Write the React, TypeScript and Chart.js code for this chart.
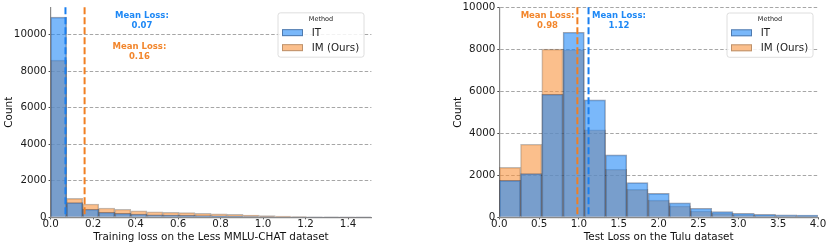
import React, { useEffect, useRef } from 'react';
import { Chart, registerables } from 'chart.js';

Chart.register(...registerables);

const SERIES = ['IT', 'IM (Ours)'];
const LEGEND_TITLE = 'Method';
const NOTE_LABEL = 'Mean Loss:';

// ---- Left panel data ----
const LEFT_X_MAX = 1.51;
const LEFT_IT = [10950, 800, 440, 275, 220, 180, 140, 125, 110, 95, 80, 65, 45, 35, 25, 15, 10, 8, 5, 3];
const LEFT_IM = [8600, 1040, 730, 510, 440, 360, 305, 275, 255, 220, 195, 165, 125, 90, 60, 40, 25, 15, 10, 5];
const LEFT_X_TICKS = [0, 0.2, 0.4, 0.6, 0.8, 1.0, 1.2, 1.4];
const LEFT_Y_TICKS = [0, 2000, 4000, 6000, 8000, 10000];
const LEFT_Y_MAX = 11500;
const LEFT_MEANS = [0.07, 0.16]; // IT, IM
const LEFT_X_TITLE = 'Training loss on the Less MMLU-CHAT dataset';

// ---- Right panel data ----
const RIGHT_X_MAX = 4.0;
const RIGHT_IT = [1760, 2080, 5860, 8810, 5590, 2970, 1650, 1140, 690, 430, 270, 190, 140, 120, 110];
const RIGHT_IM = [2380, 3480, 8010, 7980, 4170, 2290, 1330, 820, 545, 300, 190, 120, 80, 60, 50];
const RIGHT_X_TICKS = [0, 0.5, 1.0, 1.5, 2.0, 2.5, 3.0, 3.5, 4.0];
const RIGHT_Y_TICKS = [0, 2000, 4000, 6000, 8000, 10000];
const RIGHT_Y_MAX = 10000;
const RIGHT_MEANS = [1.12, 0.98]; // IT, IM
const RIGHT_X_TITLE = 'Test Loss on the Tulu dataset';

const FONT = '"DejaVu Sans", "Liberation Sans", sans-serif';
const IT_FILL = 'rgba(33,137,247,0.6)';
const IM_FILL = 'rgba(248,148,63,0.6)';
const IT_EDGE = 'rgba(20,35,70,0.42)';
const IM_EDGE = 'rgba(90,70,55,0.38)';
const IT_LINE = '#1a7ff0';
const IM_LINE = '#f07f22';
const IT_TEXT = '#1e88f5';
const IM_TEXT = '#f2862c';

type Note = { series: number; x: number; y: number };
type Panel = {
  xMax: number;
  it: number[];
  im: number[];
  xTicks: number[];
  yTicks: number[];
  yMax: number;
  means: number[];
  xTitle: string;
  notes: Note[];
  padLeft: number;
  padRight: number;
  padTop: number;
  yAxisW: number;
  xAxisH: number;
  legendGap: number;
};

const LEFT: Panel = {
  xMax: LEFT_X_MAX, it: LEFT_IT, im: LEFT_IM, xTicks: LEFT_X_TICKS, yTicks: LEFT_Y_TICKS,
  yMax: LEFT_Y_MAX, means: LEFT_MEANS, xTitle: LEFT_X_TITLE,
  notes: [
    { series: 0, x: 0.43, y: 11030 },
    { series: 1, x: 0.418, y: 9330 },
  ],
  padLeft: 3, padRight: 43.6, padTop: 7, yAxisW: 47.6, xAxisH: 29.7, legendGap: 7.4,
};

const RIGHT: Panel = {
  xMax: RIGHT_X_MAX, it: RIGHT_IT, im: RIGHT_IM, xTicks: RIGHT_X_TICKS, yTicks: RIGHT_Y_TICKS,
  yMax: RIGHT_Y_MAX, means: RIGHT_MEANS, xTitle: RIGHT_X_TITLE,
  notes: [
    { series: 1, x: 0.605, y: 9600 },
    { series: 0, x: 1.502, y: 9600 },
  ],
  padLeft: 37, padRight: 12, padTop: 7.3, yAxisW: 47.3, xAxisH: 29.7, legendGap: 5,
};

function makeOverlay(p: Panel) {
  const lineColors = [IT_LINE, IM_LINE];
  const textColors = [IT_TEXT, IM_TEXT];
  const fills = [IT_FILL, IM_FILL];
  const edges = [IT_EDGE, IM_EDGE];
  return {
    id: 'overlay',
    afterDatasetsDraw(chart: any) {
      const { ctx, chartArea, scales } = chart;
      const xs = scales.x;
      const ys = scales.y;
      ctx.save();
      p.means.forEach((m, i) => {
        const px = xs.getPixelForValue(m);
        ctx.beginPath();
        ctx.setLineDash([7, 3]);
        ctx.lineWidth = 2;
        ctx.strokeStyle = lineColors[i];
        ctx.moveTo(px, chartArea.top);
        ctx.lineTo(px, chartArea.bottom);
        ctx.stroke();
      });
      ctx.setLineDash([]);
      ctx.font = `bold 8.5px ${FONT}`;
      ctx.textAlign = 'center';
      ctx.textBaseline = 'middle';
      p.notes.forEach((n) => {
        const px = xs.getPixelForValue(n.x);
        const py = ys.getPixelForValue(n.y);
        ctx.fillStyle = textColors[n.series];
        ctx.fillText(NOTE_LABEL, px, py);
        ctx.fillText(p.means[n.series].toFixed(2), px, py + 9.6);
      });
      ctx.restore();
    },
    afterDraw(chart: any) {
      const { ctx, chartArea } = chart;
      const w = 86;
      const h = 44.3;
      const L = chartArea.right - p.legendGap - w;
      const T = chartArea.top + 5.7;
      ctx.save();
      ctx.beginPath();
      const r = 2.5;
      ctx.moveTo(L + r, T);
      ctx.lineTo(L + w - r, T);
      ctx.arcTo(L + w, T, L + w, T + r, r);
      ctx.lineTo(L + w, T + h - r);
      ctx.arcTo(L + w, T + h, L + w - r, T + h, r);
      ctx.lineTo(L + r, T + h);
      ctx.arcTo(L, T + h, L, T + h - r, r);
      ctx.lineTo(L, T + r);
      ctx.arcTo(L, T, L + r, T, r);
      ctx.closePath();
      ctx.fillStyle = 'rgba(255,255,255,0.85)';
      ctx.fill();
      ctx.lineWidth = 0.8;
      ctx.strokeStyle = '#d6d6d6';
      ctx.stroke();
      ctx.fillStyle = '#222';
      ctx.font = `6.5px ${FONT}`;
      ctx.textAlign = 'center';
      ctx.textBaseline = 'middle';
      ctx.fillText(LEGEND_TITLE, L + w / 2, T + 6.8);
      ctx.textAlign = 'left';
      ctx.font = `10.3px ${FONT}`;
      SERIES.forEach((name, i) => {
        const sy = T + 16.3 + i * 15;
        ctx.fillStyle = '#ffffff';
        ctx.fillRect(L + 4, sy, 21, 7);
        ctx.fillStyle = fills[i];
        ctx.fillRect(L + 4, sy, 21, 7);
        ctx.lineWidth = 1;
        ctx.strokeStyle = edges[i];
        ctx.strokeRect(L + 4.5, sy + 0.5, 20, 6);
        ctx.fillStyle = '#222';
        ctx.fillText(name, L + 33.7, sy + 3.8);
      });
      ctx.restore();
    },
  };
}

function buildConfig(p: Panel): any {
  const binW = p.xMax / p.it.length;
  const toPts = (arr: number[]) => arr.map((v, i) => ({ x: (i + 0.5) * binW, y: v }));
  const tickFont = { family: FONT, size: 10.3, lineHeight: 1 };
  const titleFont = { family: FONT, size: 10.4 };
  return {
    type: 'bar',
    data: {
      datasets: [
        {
          label: SERIES[0], data: toPts(p.it), backgroundColor: IT_FILL, borderColor: IT_EDGE,
          borderWidth: 1, barPercentage: 1, categoryPercentage: 1, grouped: false, order: 0,
        },
        {
          label: SERIES[1], data: toPts(p.im), backgroundColor: IM_FILL, borderColor: IM_EDGE,
          borderWidth: 1, barPercentage: 1, categoryPercentage: 1, grouped: false, order: 1,
        },
      ],
    },
    options: {
      responsive: false,
      animation: false,
      devicePixelRatio: 1,
      layout: { padding: { left: p.padLeft, right: p.padRight, top: p.padTop, bottom: 0 } },
      plugins: { legend: { display: false }, tooltip: { enabled: false }, title: { display: false } },
      scales: {
        x: {
          type: 'linear',
          offset: false,
          min: 0,
          max: p.xMax,
          afterBuildTicks: (s: any) => { s.ticks = p.xTicks.map((v) => ({ value: v })); },
          afterFit: (s: any) => { s.height = p.xAxisH; },
          grid: { display: true, drawOnChartArea: false, drawTicks: true, tickLength: 2, tickColor: '#333', tickWidth: 1, offset: false },
          border: { display: true, color: '#8a8a8a', width: 1.2 },
          ticks: {
            autoSkip: false, maxRotation: 0, padding: 0, color: '#1a1a1a', font: tickFont,
            callback: (v: any) => Number(v).toFixed(1),
          },
          title: { display: true, text: p.xTitle, color: '#111', font: titleFont, padding: { top: 0, bottom: 3 } },
        },
        y: {
          type: 'linear',
          min: 0,
          max: p.yMax,
          afterBuildTicks: (s: any) => { s.ticks = p.yTicks.map((v) => ({ value: v })); },
          afterFit: (s: any) => { s.width = p.yAxisW; },
          grid: { display: true, drawOnChartArea: true, drawTicks: true, tickLength: 2, tickColor: '#333', color: '#9c9c9c', lineWidth: 0.9 },
          border: { display: true, color: '#8a8a8a', width: 1.2, dash: [3.5, 2] },
          ticks: { padding: 2, color: '#1a1a1a', font: tickFont, callback: (v: any) => String(v) },
          title: { display: true, text: 'Count', color: '#111', font: titleFont, padding: 0 },
        },
      },
    },
    plugins: [makeOverlay(p)],
  };
}

function PanelChart({ spec, left }: { spec: Panel; left: number }) {
  const ref = useRef<HTMLCanvasElement | null>(null);
  useEffect(() => {
    if (!ref.current) return;
    const chart = new Chart(ref.current, buildConfig(spec));
    return () => chart.destroy();
  }, [spec]);
  return (
    <div style={{ position: 'absolute', left, top: 0, width: 415, height: 247 }}>
      <canvas ref={ref} width={415} height={247} style={{ width: 415, height: 247, display: 'block' }} />
    </div>
  );
}

export default function App() {
  return (
    <div style={{ position: 'absolute', left: 0, top: 0, width: 830, height: 247, background: '#ffffff', overflow: 'hidden' }}>
      <PanelChart spec={LEFT} left={0} />
      <PanelChart spec={RIGHT} left={415} />
    </div>
  );
}
